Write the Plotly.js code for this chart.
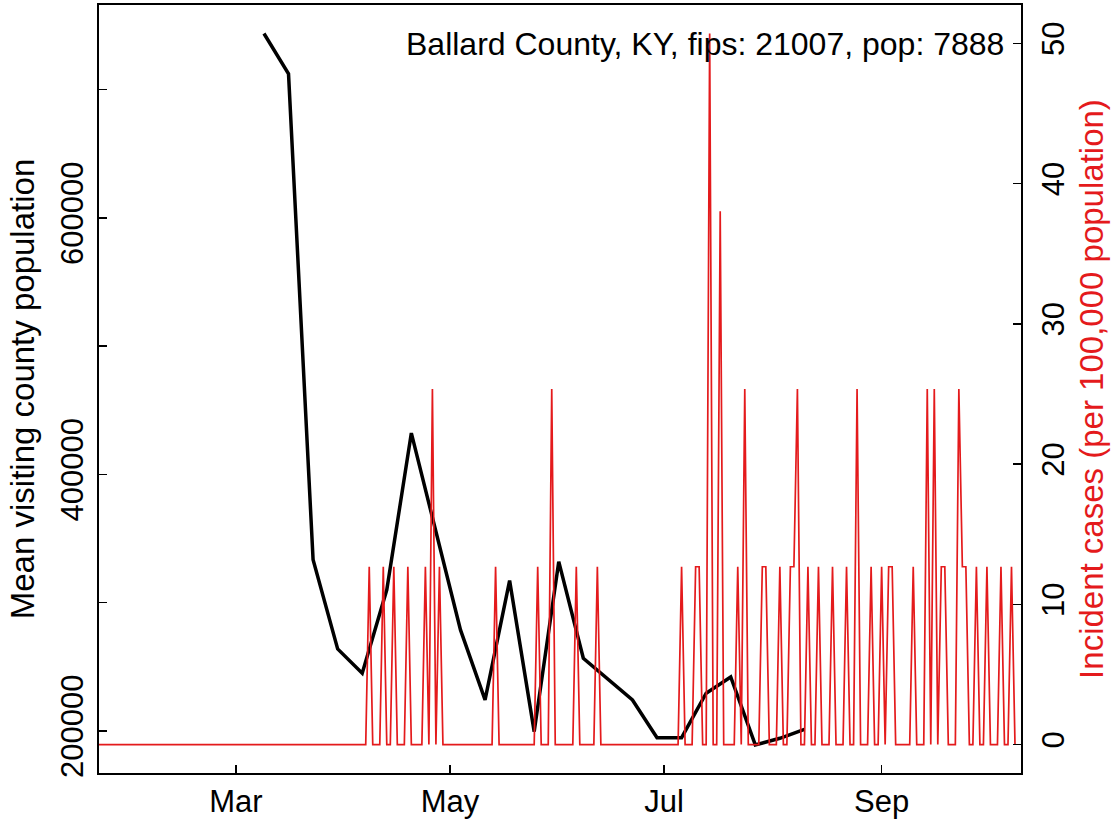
<!DOCTYPE html>
<html>
<head>
<meta charset="utf-8">
<script src="https://cdn.plot.ly/plotly-3.0.1.min.js"></script>
<style>
  html, body { margin: 0; padding: 0; background: #ffffff; }
  #chart { width: 1119px; height: 822px; }
</style>
</head>
<body>
<div id="chart"></div>
<script>
// ---- Data ----
const countyLabel = "Ballard County, KY, fips: 21007, pop: 7888";
const population = 7888;

// Weekly mean visiting-county population (black line)
const visitDates = [
  "2020-03-09","2020-03-16","2020-03-23","2020-03-30","2020-04-06","2020-04-13",
  "2020-04-20","2020-04-27","2020-05-04","2020-05-11","2020-05-18","2020-05-25",
  "2020-06-01","2020-06-08","2020-06-15","2020-06-22","2020-06-29","2020-07-06",
  "2020-07-13","2020-07-20","2020-07-27","2020-08-03","2020-08-10"
];
const visitPop = [
  743700, 712200, 333400, 264000, 245000, 310000,
  432200, 356800, 278800, 224200, 317200, 199500,
  332000, 256700, 240500, 224200, 194800, 194800,
  229400, 242100, 189100, 194300, 201300
];

// Daily new cases (counts), one value per day starting 2020-01-22
const caseStart = "2020-01-22";
const dailyCases = [
  0,0,0,0,0,0,0,0,0,0,0,0,0,0,0,0,0,0,0,0,
  0,0,0,0,0,0,0,0,0,0,0,0,0,0,0,0,0,0,0,0,
  0,0,0,0,0,0,0,0,0,0,0,0,0,0,0,0,0,0,0,0,
  0,0,0,0,0,0,0,0,0,0,0,0,0,0,0,0,0,1,0,0,
  0,1,0,0,1,0,0,0,1,0,0,0,0,1,0,2,0,1,0,0,
  0,0,0,0,0,0,0,0,0,0,0,0,0,1,0,0,0,0,0,0,
  0,0,0,0,0,1,0,0,0,2,0,0,0,0,0,0,1,0,0,0,
  0,0,1,0,0,0,0,0,0,0,0,0,0,0,0,0,0,0,0,0,
  0,0,0,0,0,0,1,0,0,0,1,1,0,0,4,0,0,3,0,0,
  0,0,1,0,2,0,0,0,0,1,1,0,0,0,1,0,0,1,1,2,
  0,0,1,0,0,1,0,0,0,1,0,0,0,1,0,0,2,0,0,0,
  1,0,0,1,0,1,1,0,0,0,0,0,1,0,0,0,2,0,2,0,
  1,1,0,0,0,2,1,1,0,0,1,0,0,1,0,0,0,1,0,0,
  1,0
];
const incidence = dailyCases.map(c => c / population * 100000);

// Tick labels
const xTickVals = ["2020-03-01","2020-05-01","2020-07-01","2020-09-01"];
const xTickText = ["Mar","May","Jul","Sep"];
const yTickVals = [200000,300000,400000,500000,600000,700000];
const yTickText = ["200000","","400000","","600000",""];
const y2TickVals = [0,10,20,30,40,50];
const y2TickText = ["0","10","20","30","40","50"];

// ---- Styling ----
const FONT = "Liberation Sans, Arial, Helvetica, sans-serif";
const RED = "#E41A1C";

const traces = [
  {
    type: "scatter", mode: "lines",
    x: visitDates, y: visitPop,
    line: { color: "#000000", width: 3.5 },
    yaxis: "y", hoverinfo: "skip"
  },
  {
    type: "scatter", mode: "lines",
    x0: caseStart, dx: 86400000, y: incidence,
    line: { color: RED, width: 1.7 },
    yaxis: "y2", hoverinfo: "skip"
  }
];

const axisCommon = {
  showgrid: false, zeroline: false,
  showline: true, linecolor: "#000", linewidth: 2,
  ticks: "inside", ticklen: 8, tickwidth: 1.6, tickcolor: "#000",
  tickfont: { family: FONT, size: 31, color: "#000" }
};

const layout = {
  width: 1119, height: 822,
  margin: { l: 99, r: 98, t: 5, b: 49, pad: 0 },
  paper_bgcolor: "#ffffff", plot_bgcolor: "#ffffff",
  showlegend: false,
  font: { family: FONT, color: "#000" },
  xaxis: Object.assign({}, axisCommon, {
    type: "date",
    range: ["2020-01-22", "2020-10-10 17:00"],
    tickmode: "array", tickvals: xTickVals, ticktext: xTickText,
    mirror: true, ticklabelstandoff: 0
  }),
  yaxis: Object.assign({}, axisCommon, {
    range: [167240, 765890],
    tickmode: "array", tickvals: yTickVals, ticktext: yTickText,
    tickangle: -90, ticklabelstandoff: 2,
    title: { text: "Mean visiting county population",
             font: { family: FONT, size: 33, color: "#000" }, standoff: 10 }
  }),
  yaxis2: Object.assign({}, axisCommon, {
    overlaying: "y", side: "right",
    range: [-2.03, 52.74],
    tickmode: "array", tickvals: y2TickVals, ticktext: y2TickText,
    tickangle: -90, ticklabelstandoff: 4,
    title: { text: "Incident cases (per 100,000 population)",
             font: { family: FONT, size: 33, color: RED }, standoff: 10 }
  }),
  annotations: [{
    text: countyLabel, showarrow: false,
    xref: "paper", yref: "paper", x: 0.984, y: 0.9486,
    xanchor: "right", yanchor: "middle",
    font: { family: FONT, size: 32, color: "#000" }
  }]
};

Plotly.newPlot("chart", traces, layout, { displayModeBar: false, staticPlot: true });
</script>
</body>
</html>
